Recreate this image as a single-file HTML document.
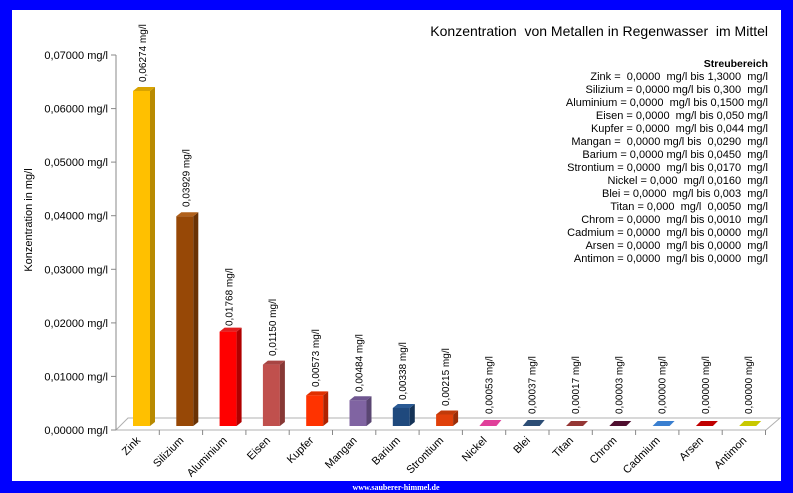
<!DOCTYPE html>
<html><head><meta charset="utf-8"><style>
html,body{margin:0;padding:0;background:#0000ff;}
svg{display:block;font-family:"Liberation Sans",sans-serif;}
text{white-space:pre;}
</style></head><body>
<svg width="793" height="493" xmlns="http://www.w3.org/2000/svg">
<rect x="0" y="0" width="793" height="493" fill="#0000ff"/>
<rect x="12" y="10" width="769" height="471" fill="#fff"/>
<text x="396" y="490" font-family="Liberation Serif,serif" font-size="8" font-weight="bold" fill="#fff" text-anchor="middle">www.sauberer-himmel.de</text>
<text x="768" y="36" font-size="14" text-anchor="end" fill="#000">Konzentration  von Metallen in Regenwasser  im Mittel</text>
<g font-size="11" text-anchor="end" fill="#000">
<text x="768" y="67" font-weight="bold" font-size="10.5">Streubereich</text>
<text x="768" y="80">Zink =  0,0000  mg/l bis 1,3000  mg/l</text>
<text x="768" y="93">Silizium = 0,0000 mg/l bis 0,300  mg/l</text>
<text x="768" y="106">Aluminium = 0,0000  mg/l bis 0,1500 mg/l</text>
<text x="768" y="119">Eisen = 0,0000  mg/l bis 0,050 mg/l</text>
<text x="768" y="132">Kupfer = 0,0000  mg/l bis 0,044 mg/l</text>
<text x="768" y="145">Mangan =  0,0000 mg/l bis  0,0290  mg/l</text>
<text x="768" y="158">Barium = 0,0000 mg/l bis 0,0450  mg/l</text>
<text x="768" y="171">Strontium = 0,0000  mg/l bis 0,0170  mg/l</text>
<text x="768" y="184">Nickel = 0,000  mg/l 0,0160  mg/l</text>
<text x="768" y="197">Blei = 0,0000  mg/l bis 0,003  mg/l</text>
<text x="768" y="210">Titan = 0,000  mg/l  0,0050  mg/l</text>
<text x="768" y="223">Chrom = 0,0000  mg/l bis 0,0010  mg/l</text>
<text x="768" y="236">Cadmium = 0,0000  mg/l bis 0,0000  mg/l</text>
<text x="768" y="249">Arsen = 0,0000  mg/l bis 0,0000  mg/l</text>
<text x="768" y="262">Antimon = 0,0000  mg/l bis 0,0000  mg/l</text>
</g>
<polygon points="116,430 766,430 780,418 128,418" fill="#fff" stroke="#b0b0b0" stroke-width="1"/>
<line x1="116" y1="55" x2="116" y2="430" stroke="#888"/>
<g stroke="#888">
<line x1="111" y1="430" x2="116" y2="430"/><line x1="111" y1="376.4" x2="116" y2="376.4"/>
<line x1="111" y1="322.9" x2="116" y2="322.9"/><line x1="111" y1="269.3" x2="116" y2="269.3"/>
<line x1="111" y1="215.7" x2="116" y2="215.7"/><line x1="111" y1="162.1" x2="116" y2="162.1"/>
<line x1="111" y1="108.6" x2="116" y2="108.6"/><line x1="111" y1="55" x2="116" y2="55"/>
<line x1="159.3" y1="430" x2="159.3" y2="435"/><line x1="202.6" y1="430" x2="202.6" y2="435"/>
<line x1="245.9" y1="430" x2="245.9" y2="435"/><line x1="289.2" y1="430" x2="289.2" y2="435"/>
<line x1="332.5" y1="430" x2="332.5" y2="435"/><line x1="375.8" y1="430" x2="375.8" y2="435"/>
<line x1="419.1" y1="430" x2="419.1" y2="435"/><line x1="462.4" y1="430" x2="462.4" y2="435"/>
<line x1="505.7" y1="430" x2="505.7" y2="435"/><line x1="549" y1="430" x2="549" y2="435"/>
<line x1="592.3" y1="430" x2="592.3" y2="435"/><line x1="635.6" y1="430" x2="635.6" y2="435"/>
<line x1="678.9" y1="430" x2="678.9" y2="435"/><line x1="722.2" y1="430" x2="722.2" y2="435"/>
<line x1="765.5" y1="430" x2="765.5" y2="435"/>
</g>
<g font-size="11" text-anchor="end" fill="#000">
<text x="108" y="434">0,00000 mg/l</text><text x="108" y="380.4">0,01000 mg/l</text>
<text x="108" y="326.9">0,02000 mg/l</text><text x="108" y="273.3">0,03000 mg/l</text>
<text x="108" y="219.7">0,04000 mg/l</text><text x="108" y="166.1">0,05000 mg/l</text>
<text x="108" y="112.6">0,06000 mg/l</text><text x="108" y="59">0,07000 mg/l</text>
</g>
<text transform="translate(32,220) rotate(-90)" font-size="11" text-anchor="middle">Konzentration in mg/l</text>
<g>
<rect x="133" y="91" width="17" height="335" fill="#ffc000"/><polygon points="150,91 155,87 155,422 150,426" fill="#b88a00"/><polygon points="133,91 138,87 155,87 150,91" fill="#d9a300"/>
<rect x="176.3" y="216.2" width="17" height="209.8" fill="#974806"/><polygon points="193.3,216.2 198.3,212.2 198.3,422 193.3,426" fill="#6a3204"/><polygon points="176.3,216.2 181.3,212.2 198.3,212.2 193.3,216.2" fill="#b0601a"/>
<rect x="219.6" y="331.6" width="17" height="94.4" fill="#ff0000"/><polygon points="236.6,331.6 241.6,327.6 241.6,422 236.6,426" fill="#b00000"/><polygon points="219.6,331.6 224.6,327.6 241.6,327.6 236.6,331.6" fill="#e02020"/>
<rect x="262.9" y="364.6" width="17" height="61.4" fill="#c0504d"/><polygon points="279.9,364.6 284.9,360.6 284.9,422 279.9,426" fill="#873835"/><polygon points="262.9,364.6 267.9,360.6 284.9,360.6 279.9,364.6" fill="#a84543"/>
<rect x="306.2" y="395.4" width="17" height="30.6" fill="#ff3300"/><polygon points="323.2,395.4 328.2,391.4 328.2,422 323.2,426" fill="#b02200"/><polygon points="306.2,395.4 311.2,391.4 328.2,391.4 323.2,395.4" fill="#e03000"/>
<rect x="349.5" y="400.2" width="17" height="25.8" fill="#8064a2"/><polygon points="366.5,400.2 371.5,396.2 371.5,422 366.5,426" fill="#5a4672"/><polygon points="349.5,400.2 354.5,396.2 371.5,396.2 366.5,400.2" fill="#6f5690"/>
<rect x="392.8" y="408" width="17" height="18" fill="#1f497d"/><polygon points="409.8,408 414.8,404 414.8,422 409.8,426" fill="#153357"/><polygon points="392.8,408 397.8,404 414.8,404 409.8,408" fill="#2a5a94"/>
<rect x="436.1" y="414.5" width="17" height="11.5" fill="#e0400a"/><polygon points="453.1,414.5 458.1,410.5 458.1,422 453.1,426" fill="#9c2d07"/><polygon points="436.1,414.5 441.1,410.5 458.1,410.5 453.1,414.5" fill="#c03a0a"/>
<polygon points="479.4,426 484.4,420 501.4,420 496.4,426" fill="#e0409a"/>
<polygon points="522.7,426 527.7,420 544.7,420 539.7,426" fill="#2c4d75"/>
<polygon points="566,426 571,421 588,421 583,426" fill="#953735"/>
<polygon points="609.3,426 614.3,421 631.3,421 626.3,426" fill="#4f0f2f"/>
<polygon points="652.6,426 657.6,421 674.6,421 669.6,426" fill="#3a7fd0"/>
<polygon points="695.9,426 700.9,421 717.9,421 712.9,426" fill="#c00000"/>
<polygon points="739.2,426 744.2,421 761.2,421 756.2,426" fill="#c8c800"/>
</g>
<g font-size="10" fill="#000">
<text transform="translate(146,82) rotate(-90)">0,06274 mg/l</text>
<text transform="translate(189.3,207) rotate(-90)">0,03929 mg/l</text>
<text transform="translate(232.6,326) rotate(-90)">0,01768 mg/l</text>
<text transform="translate(275.9,356) rotate(-90)">0,01150 mg/l</text>
<text transform="translate(319.2,387) rotate(-90)">0,00573 mg/l</text>
<text transform="translate(362.5,392) rotate(-90)">0,00484 mg/l</text>
<text transform="translate(405.8,400) rotate(-90)">0,00338 mg/l</text>
<text transform="translate(449.1,406) rotate(-90)">0,00215 mg/l</text>
<text transform="translate(492.4,414) rotate(-90)">0,00053 mg/l</text>
<text transform="translate(535.7,414) rotate(-90)">0,00037 mg/l</text>
<text transform="translate(579,414) rotate(-90)">0,00017 mg/l</text>
<text transform="translate(622.3,414) rotate(-90)">0,00003 mg/l</text>
<text transform="translate(665.6,414) rotate(-90)">0,00000 mg/l</text>
<text transform="translate(708.9,414) rotate(-90)">0,00000 mg/l</text>
<text transform="translate(752.2,414) rotate(-90)">0,00000 mg/l</text>
</g>
<g font-size="11" fill="#000" text-anchor="end">
<text transform="translate(141,441) rotate(-45)">Zink</text>
<text transform="translate(184.3,441) rotate(-45)">Silizium</text>
<text transform="translate(227.6,441) rotate(-45)">Aluminium</text>
<text transform="translate(270.9,441) rotate(-45)">Eisen</text>
<text transform="translate(314.2,441) rotate(-45)">Kupfer</text>
<text transform="translate(357.5,441) rotate(-45)">Mangan</text>
<text transform="translate(400.8,441) rotate(-45)">Barium</text>
<text transform="translate(444.1,441) rotate(-45)">Strontium</text>
<text transform="translate(487.4,441) rotate(-45)">Nickel</text>
<text transform="translate(530.7,441) rotate(-45)">Blei</text>
<text transform="translate(574,441) rotate(-45)">Titan</text>
<text transform="translate(617.3,441) rotate(-45)">Chrom</text>
<text transform="translate(660.6,441) rotate(-45)">Cadmium</text>
<text transform="translate(703.9,441) rotate(-45)">Arsen</text>
<text transform="translate(747.2,441) rotate(-45)">Antimon</text>
</g>
</svg>
</body></html>
